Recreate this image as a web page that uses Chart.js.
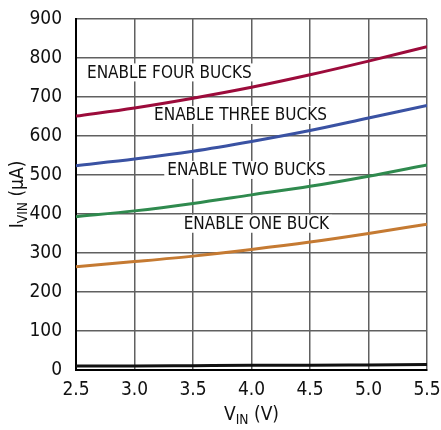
<!DOCTYPE html>
<html lang="en">
<head>
  <meta charset="UTF-8" />
  <title>Input Current vs Input Voltage</title>
  <script src="https://cdn.jsdelivr.net/npm/chart.js"></script>
  <style>
    body {
      margin: 0;
      background: white;
    }
    #wrap {
      width: 441px;
      height: 430px;
    }
  </style>
</head>
<body>
  <div id="wrap"><canvas id="iqChart"></canvas></div>

  <script>
    const FONT = "'DejaVu Sans Condensed', 'Liberation Sans', sans-serif";

    // data (V, uA)
    const vin      = [2.5, 3.0, 3.5, 4.0, 4.5, 5.0, 5.5];
    const fourBuck = [651, 672, 697, 725, 757, 792, 829];
    const threeBuck = [524, 541, 561, 586, 614, 646, 678];
    const twoBuck  = [393, 408, 427, 449, 471, 497, 526];
    const oneBuck  = [265, 278, 292, 309, 328, 350, 374];
    const shutdown = [10, 10, 11, 12, 12, 13, 14];

    const xTicks = [2.5, 3.0, 3.5, 4.0, 4.5, 5.0, 5.5];
    const yTicks = [0, 100, 200, 300, 400, 500, 600, 700, 800, 900];

    // curve labels, anchored in data coords (left edge, vertical centre)
    const curveLabels = [
      { text: 'ENABLE FOUR BUCKS',  x: 2.594, y: 763 },
      { text: 'ENABLE THREE BUCKS', x: 3.167, y: 654 },
      { text: 'ENABLE TWO BUCKS',   x: 3.28,  y: 513 },
      { text: 'ENABLE ONE BUCK',    x: 3.42,  y: 375 }
    ];

    const toPts = ys => vin.map((v, i) => ({ x: v, y: ys[i] }));

    const series = [
      { data: fourBuck,  color: '#9c0b3b' },
      { data: threeBuck, color: '#3a52a3' },
      { data: twoBuck,   color: '#2f8a4e' },
      { data: oneBuck,   color: '#c57a32' },
      { data: shutdown,  color: '#111111' }
    ];

    // text with subscript helper
    function drawSubText(ctx, parts, x, y, size) {
      // parts: [[text, isSub], ...] ; x is the centre
      let total = 0;
      parts.forEach(([t, sub]) => {
        ctx.font = (sub ? size * 0.72 : size) + 'px ' + FONT;
        total += ctx.measureText(t).width;
      });
      let cx = x - total / 2;
      parts.forEach(([t, sub]) => {
        ctx.font = (sub ? size * 0.72 : size) + 'px ' + FONT;
        ctx.fillText(t, cx, sub ? y + size * 0.28 : y);
        cx += ctx.measureText(t).width;
      });
    }

    const labelPlugin = {
      id: 'curveLabels',
      beforeDatasetsDraw(chart) {
        const { ctx, scales } = chart;
        ctx.save();
        ctx.font = '17px ' + FONT;
        ctx.textBaseline = 'middle';
        curveLabels.forEach(l => {
          const px = scales.x.getPixelForValue(l.x);
          const py = scales.y.getPixelForValue(l.y);
          const w = ctx.measureText(l.text).width;
          ctx.fillStyle = 'white';
          ctx.fillRect(px - 3, py - 9, w + 6, 18);
          ctx.fillStyle = '#111';
          ctx.fillText(l.text, px, py + 1);
        });
        ctx.restore();
      },
      afterDraw(chart) {
        const { ctx, chartArea } = chart;
        ctx.save();
        ctx.fillStyle = '#111';
        ctx.textBaseline = 'middle';
        // x title
        drawSubText(ctx, [['V', false], ['IN', true], [' (V)', false]],
          (chartArea.left + chartArea.right) / 2, 415, 19);
        // y title
        ctx.translate(18, (chartArea.top + chartArea.bottom) / 2);
        ctx.rotate(-Math.PI / 2);
        drawSubText(ctx, [['I', false], ['VIN', true], [' (µA)', false]], 0, 0, 19);
        ctx.restore();
      }
    };

    new Chart(document.getElementById('iqChart'), {
      type: 'line',
      data: {
        datasets: series.map(s => ({
          data: toPts(s.data),
          borderColor: s.color,
          borderWidth: 3,
          pointRadius: 0,
          cubicInterpolationMode: 'monotone',
          fill: false
        }))
      },
      options: {
        responsive: true,
        maintainAspectRatio: false,
        animation: false,
        layout: { padding: { top: 19, right: 14, left: 0, bottom: 0 } },
        plugins: {
          legend: { display: false },
          tooltip: { enabled: false }
        },
        scales: {
          x: {
            type: 'linear',
            min: 2.5,
            max: 5.5,
            afterBuildTicks: sc => { sc.ticks = xTicks.map(v => ({ value: v })); },
            afterFit: sc => {
              sc.height = 60;
              sc.paddingLeft = 0;
              sc.paddingRight = 0;
            },
            grid: { color: '#606060', lineWidth: 1.5, drawTicks: false },
            border: { color: '#000', width: 2 },
            ticks: {
              padding: 9,
              color: '#111',
              font: { family: FONT, size: 19 },
              callback: v => v.toFixed(1)
            }
          },
          y: {
            min: 0,
            max: 900,
            afterBuildTicks: sc => { sc.ticks = yTicks.map(v => ({ value: v })); },
            afterFit: sc => {
              sc.width = 76;
              sc.paddingTop = 0;
              sc.paddingBottom = 0;
            },
            grid: { color: '#606060', lineWidth: 1.5, drawTicks: false },
            border: { color: '#000', width: 2 },
            ticks: {
              padding: 14,
              color: '#111',
              font: { family: FONT, size: 19 }
            }
          }
        }
      },
      plugins: [labelPlugin]
    });
  </script>
</body>
</html>
